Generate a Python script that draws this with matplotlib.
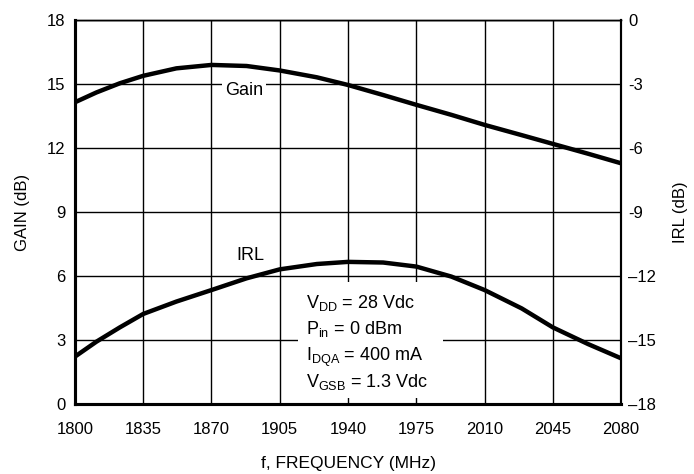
import matplotlib
matplotlib.use("Agg")
import matplotlib.pyplot as plt

plt.rcParams['font.family'] = ['Liberation Sans', 'DejaVu Sans']

# data
freq = [1800, 1811, 1823, 1835, 1852, 1870, 1888, 1905, 1924, 1940,
        1958, 1975, 1993, 2010, 2029, 2045, 2063, 2080]
gain = [14.14, 14.6, 15.03, 15.38, 15.73, 15.89, 15.84, 15.63, 15.31, 14.95,
        14.48, 14.02, 13.55, 13.08, 12.6, 12.19, 11.73, 11.28]
irl = [-15.78, -15.08, -14.41, -13.78, -13.2, -12.66, -12.11, -11.69, -11.44, -11.34,
       -11.37, -11.56, -12.03, -12.66, -13.52, -14.41, -15.19, -15.86]

x_ticks = [1800, 1835, 1870, 1905, 1940, 1975, 2010, 2045, 2080]
gain_ticks = [0, 3, 6, 9, 12, 15, 18]
irl_ticks = [-18, -15, -12, -9, -6, -3, 0]
irl_labels = ['–18', '–15', '–12', '-9', '-6', '-3', '0']

fig = plt.figure(figsize=(6.94, 4.74), dpi=100)
ax = fig.add_axes([0.108, 0.1477, 0.787, 0.8103])
ax2 = ax.twinx()

ax.set_xlim(1800, 2080)
ax.set_ylim(0, 18)
ax2.set_ylim(-18, 0)
ax.set_xticks(x_ticks)
ax.set_yticks(gain_ticks)
ax2.set_yticks(irl_ticks)
ax2.set_yticklabels(irl_labels)

ax.grid(True, color='black', linewidth=1.0)
ax.set_axisbelow(True)

ax2.plot(freq, irl, color='black', linewidth=3.2, solid_capstyle='butt', zorder=3)
ax.plot(freq, gain, color='black', linewidth=3.2, solid_capstyle='butt', zorder=3)

for a in (ax, ax2):
    for s in a.spines.values():
        s.set_linewidth(1.0)
    a.spines['left'].set_linewidth(2.2)
    a.spines['bottom'].set_linewidth(2.2)
    a.spines['right'].set_linewidth(1.5)

ax.tick_params(axis='x', length=0, labelsize=12, pad=13)
ax.tick_params(axis='y', length=0, labelsize=12, pad=7)
ax2.tick_params(axis='y', length=0, labelsize=12, pad=5)

ax.set_ylabel('GAIN (dB)', fontsize=12, labelpad=12)
ax2.set_ylabel('IRL (dB)', fontsize=12, labelpad=12)
ax.set_xlabel('f, FREQUENCY (MHz)', fontsize=12.5, labelpad=14)

# labels on curves
ax.text(1886.8, 14.67, 'Gain', fontsize=13, ha='center', va='center', zorder=4,
        bbox=dict(facecolor='white', edgecolor='none', pad=2))
ax.text(1890, 6.96, 'IRL', fontsize=13, ha='center', va='center', zorder=4)

# conditions box
ax.add_patch(plt.Rectangle((1914.6, 0.28), 74, 5.44, facecolor='white', edgecolor='none', zorder=2))
cond = [r'V$_{\mathregular{DD}}$ = 28 Vdc', r'P$_{\mathregular{in}}$ = 0 dBm',
        r'I$_{\mathregular{DQA}}$ = 400 mA', r'V$_{\mathregular{GSB}}$ = 1.3 Vdc']
for i, t in enumerate(cond):
    ax.text(1918.2, 4.5 - i * 1.235, t, fontsize=13, ha='left', va='baseline', zorder=4)

fig.savefig('out.png', dpi=100)
